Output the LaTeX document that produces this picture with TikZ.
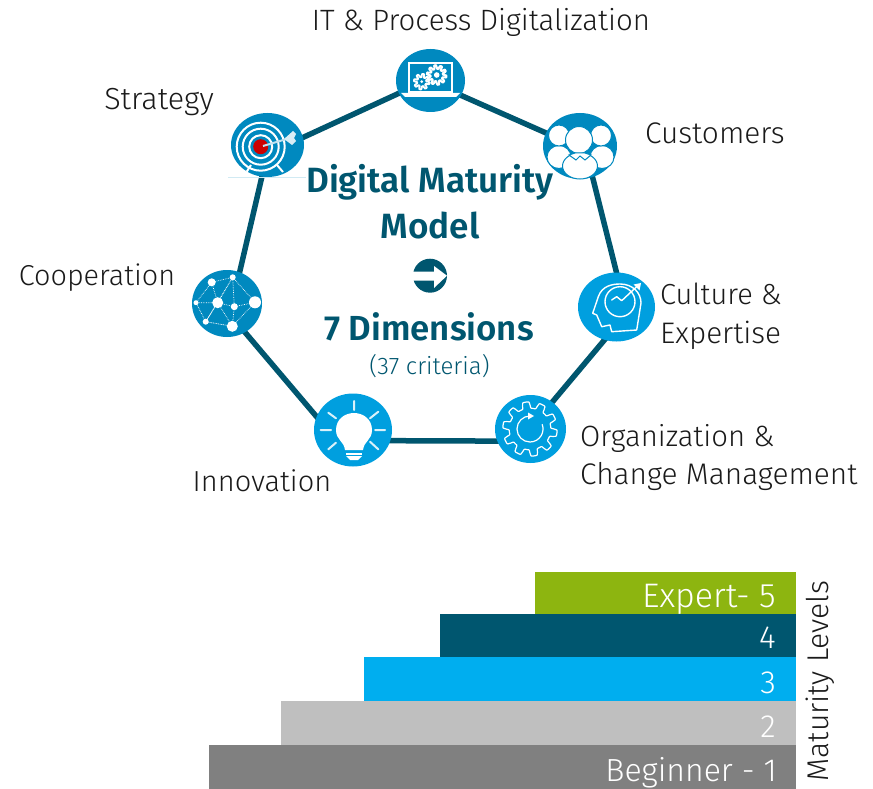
\documentclass[tikz,border=0pt]{standalone}
\usepackage{fontspec}
\setmainfont{Fira Sans Light}
\newfontfamily\boldf{Fira Sans SemiBold}
\usetikzlibrary{shapes.geometric,backgrounds}
\definecolor{teal}{HTML}{00566F}
\definecolor{dk}{HTML}{0089BF}
\definecolor{lt}{HTML}{009FDF}
\definecolor{lab}{HTML}{1A1A1A}
\tikzset{
 dim/.style={ellipse,inner sep=0pt,outer sep=0pt,fill=#1},
 link/.style={draw=teal,line width=5.5pt,shorten <=-2pt,shorten >=-2pt},
 lbl/.style={anchor=base west,inner sep=0pt,text=lab,font=\fontsize{#1}{30}\selectfont},
 lblc/.style={lbl=#1,anchor=base},
 head/.style={anchor=base,inner sep=0pt,text=teal,font=\fontsize{#1}{36}\boldf},
 barl/.style={anchor=base east,inner sep=0pt,text=white,font=\fontsize{#1}{34}\selectfont},
 wl/.style={draw=white,line width=#1,line cap=round,line join=round},
 wl/.default=1.5pt
}
\newcommand{\mkdim}[6]{\node[dim=#6,minimum width=#4pt,minimum height=#5pt] (#1) at (#2,#3) {};}
\begin{document}
\begin{tikzpicture}[x=1pt,y=-1pt]
\useasboundingbox (0,0) rectangle (873,789);
% dimension discs
\mkdim{it}{430.5}{80.5}{69}{63}{dk}
\mkdim{cust}{580}{146}{74}{66}{dk}
\mkdim{cult}{616.5}{307}{77}{69}{lt}
\mkdim{org}{530.5}{429}{71}{68}{lt}
\mkdim{inno}{353}{430}{78}{73}{lt}
\mkdim{coop}{227}{303.5}{70}{67}{dk}
\mkdim{strat}{267.5}{145}{73}{64}{dk}
% connectors
\begin{scope}[on background layer]
\draw[link] (it.-26.6) -- (cust.159);
\draw[link] (cust.-68) -- (cult.90);
\draw[link] (cult.250.8) -- (org.51.8);
\draw[link] (org.200) -- (inno.-16.6);
\draw[link] (inno.160) -- (coop.-58.9);
\draw[link] (coop.68.9) -- (strat.260);
\draw[link] (strat.12.5) -- (it.202.3);
\end{scope}
% faint line under the target
\draw[draw=dk!18,line width=.8pt] (228,177) -- (306,177);
% laptop icon
\draw[wl=1.8pt,line join=miter] (409,63) rectangle (452,92);
\fill[white] (401,93) -- (460,93) -- (456,97) -- (405,97) -- cycle;
\draw[wl=1.8pt] plot[domain=0:360,samples=97,variable=\t] ({421.7+(6.2+1.6*max(-1,min(1,3*sin(8*\t))))*cos(\t)},{81.7+(6.2+1.6*max(-1,min(1,3*sin(8*\t))))*sin(\t)}) -- cycle;
\draw[wl=2pt] plot[domain=0:360,samples=97,variable=\t] ({436.7+(8+1.8*max(-1,min(1,3*sin(10*\t))))*cos(\t)},{75+(8+1.8*max(-1,min(1,3*sin(10*\t))))*sin(\t)}) -- cycle;
\fill[white] (436.7,75) circle (2.8pt) (421.7,81.7) circle (1.5pt);
% target icon
\draw[wl=2pt,line cap=butt] (246.7,171.7) -- (251,165);
\draw[wl=2pt,line cap=butt] (283,172) -- (277,165);
\draw[wl=2pt] (260.7,146.7) circle (24pt);
\draw[wl=2pt] (260.7,146.7) circle (18pt);
\draw[wl=2pt] (260.7,146.7) circle (11.5pt);
\fill[red!80!black] (260.7,146.7) circle (7.5pt);
\draw[draw=white!75!dk,line width=2pt] (263,146) -- (290,138);
\fill[white!85!dk] (284,139) -- (293,131) -- (296,134) -- (294,138) -- (296,141) -- (292,145) -- cycle;
% customers icon
\begin{scope}[every path/.style={fill=white,draw=dk,line width=1pt}]
\path (559,157) ellipse (12pt and 11.5pt);
\path (602,157) ellipse (12pt and 11.5pt);
\path (559,135.5) circle (10.5pt);
\path (601,135.5) circle (10.5pt);
\path (580,166) ellipse (17.5pt and 13pt);
\path (579,140) circle (13.5pt);
\path (569,155) -- (576,160) -- (580,156) -- (585,160) -- (591,155) -- (585,153) -- (575,153) -- cycle;
\end{scope}
% network icon
\draw[draw=white,line width=.7pt,densely dotted]
 (211.7,282.3) -- (232.7,277.3) -- (255,302.3) -- (232.3,326.3) -- (205.7,321.7) -- (196,302.7) -- (211.7,282.3) -- (217.7,302.7) -- (232.7,277.3) -- (234.3,306.7) -- (232.3,326.3)
 (196,302.7) -- (217.7,302.7) -- (205.7,321.7)
 (217.7,302.7) -- (234.3,306.7) -- (255,302.3) (232.7,277.3) -- (205.7,321.7) -- (232.3,326.3) -- (217.7,302.7);
\fill[white] (211.7,282.3) circle (4pt) (232.7,277.3) circle (3pt) (196,302.7) circle (2.5pt)
 (217.7,302.7) circle (5.5pt) (234.3,306.7) circle (3.5pt) (255,302.3) circle (6pt)
 (205.7,321.7) circle (3pt) (232.3,326.3) circle (5.5pt);
% bulb icon
\draw[white!85!lt,line width=2pt,line cap=round] (354,401) -- (354,410) (320.5,430) -- (331,430) (375,430) -- (385,430)
 (328.3,412.7) -- (336,418.3) (378.3,411.7) -- (370,418.3) (328.3,449.3) -- (336,442.7) (378.3,449.3) -- (370,441.7);
\fill[white] (345,450) .. controls (344,441) and (336,440) .. (336,430) .. controls (336,419) and (345,413) .. (354,413) .. controls (363,413) and (372,419) .. (372,430) .. controls (372,440) and (364,441) .. (363,450) -- cycle;
\fill[white] (346,452.5) rectangle (362,454.5);
\fill[white] (346,456) -- (362,456) -- (358,460) -- (350,460) -- cycle;
% head icon
\draw[wl=1.4pt] (601.7,326.7) -- (596.7,315) -- (592.7,313.3) -- (598.3,296.7) .. controls (602,286) and (612,284) .. (620,284) .. controls (633,284) and (641,293) .. (641,303) -- (636.7,330) -- (611.7,331.7) -- (610,325) -- cycle;
\draw[wl=1.4pt] (620,301.7) circle (15pt);
\draw[wl=1.4pt] (611.7,300) -- (616.7,296.7) -- (621.7,300.7) -- (639,284.5);
\fill[white] (641,283) -- (633.5,284.5) -- (639.5,290.5) -- cycle;
% gear icon
\draw[wl=1.2pt] plot[domain=0:360,samples=181,variable=\t] ({530+(24+3.2*max(-1,min(1,2.5*sin(10*\t))))*cos(\t)},{429+(24+3.2*max(-1,min(1,2.5*sin(10*\t))))*sin(\t)}) -- cycle;
\draw[wl=1.2pt] (530,416) arc[start angle=-90,end angle=-380,radius=13];
\fill[white] (534,416) -- (528,412.5) -- (528,419.5) -- cycle;
% centre arrow
\fill[teal] (430,275.7) circle (17pt);
\fill[white] (412,271.7) -- (434,271.7) -- (434,266) -- (447,275.7) -- (434,288) -- (434,280.7) -- (412,280.7) -- cycle;
% centre text
\node[head=35.1] (t1) at (430,193) {Digital Maturity};
\node[head=35.1] (t2) at (430,238) {Model};
\node[head=34.8] (t3) at (429,340) {7 Dimensions};
\node[anchor=base,inner sep=0pt,text=teal,font=\fontsize{24}{26}\selectfont] (t4) at (429.5,374) {(37 criteria)};
% labels
\node[lblc=29.4] (l1) at (481,31) {IT \& Process Digitalization};
\node[lblc=30.5] (l2) at (159,110) {Strategy};
\node[lblc=29.8] (l3) at (715,144) {Customers};
\node[lbl=29] (l4) at (660,304) {Culture \&};
\node[lbl=29.7] (l5) at (660,343) {Expertise};
\node[lbl=29.3] (l6) at (580,446) {Organization \&};
\node[lbl=29.8] (l7) at (580,484) {Change Management};
\node[lblc=29] (l8) at (262,491) {Innovation};
\node[lblc=28.8] (l9) at (97,285) {Cooperation};
% bars
\fill[fill=black!50] (209,745) rectangle (796,789);
\fill[fill=black!25] (281,701) rectangle (796,745);
\fill[fill={rgb,255:red,0;green,174;blue,239}] (364,657) rectangle (796,701);
\fill[fill=teal] (440,614) rectangle (796,657);
\fill[fill={rgb,255:red,141;green,181;blue,16}] (535,572) rectangle (796,614);
\node[barl=34] (b5) at (776,607) {Expert- 5};
\node[barl=32] (b4) at (776,648) {4};
\node[barl=32] (b3) at (776,693) {3};
\node[barl=32] (b2) at (776,737) {2};
\node[barl=32] (b1) at (777,781) {Beginner - 1};
\node[anchor=base,rotate=90,inner sep=0pt,text=lab,font=\fontsize{30}{32}\selectfont] (ml) at (828,681) {Maturity Levels};
\end{tikzpicture}
\end{document}
